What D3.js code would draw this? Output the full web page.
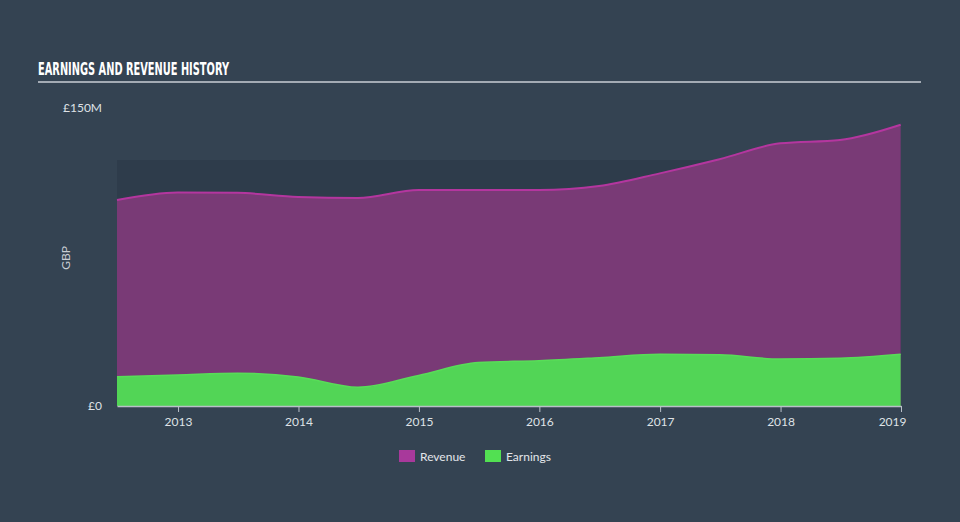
<!DOCTYPE html>
<html>
<head>
<meta charset="utf-8">
<script src="https://cdn.jsdelivr.net/npm/d3@7"></script>
<style>
  html, body { margin: 0; padding: 0; background: #344352; }
  svg { display: block; }
</style>
</head>
<body>
<svg id="chart" width="960" height="522"></svg>
<script>
// ---- data ----
const dates = ["2012-06-30","2012-12-31","2013-06-30","2013-12-31","2014-06-30","2014-12-31",
               "2015-06-30","2015-12-31","2016-06-30","2016-12-31","2017-06-30","2017-12-31",
               "2018-06-30","2018-12-31"];
const revenue  = [103.7, 107.5, 107.3, 105.2, 104.7, 108.7, 108.7, 108.7, 110.7, 117.1, 124.2, 132.2, 133.9, 141.6];
const earnings = [14.7, 15.6, 16.5, 14.6, 9.4, 15.4, 21.9, 22.8, 24.3, 26.0, 25.8, 23.6, 24.0, 26.0];
const xTickYears = [2013, 2014, 2015, 2016, 2017, 2018, 2019];
const yTickValues = [0, 150];
const yTickLabels = ["£0", "£150M"];
const seriesNames = ["Revenue", "Earnings"];
const titleText = "EARNINGS AND REVENUE HISTORY";

// ---- setup ----
const svg = d3.select("#chart");
const parse = d3.timeParse("%Y-%m-%d");
const pts = dates.map((d, i) => ({ date: parse(d), rev: revenue[i], earn: earnings[i] }));

const plotLeft = 117, plotRight = 901, plotTop = 108, plotBottom = 406;
const x = d3.scaleTime().domain([pts[0].date, new Date(2019, 0, 1)]).range([plotLeft, plotRight]);
const y = d3.scaleLinear().domain([0, 150]).range([plotBottom, plotTop]);

svg.append("rect").attr("width", 960).attr("height", 522).attr("fill", "#344352");

// title
svg.append("text")
  .attr("x", 38).attr("y", 75)
  .attr("font-family", "'Liberation Sans Narrow', 'DejaVu Sans Condensed', 'Roboto', sans-serif")
  .attr("font-weight", "bold").attr("font-size", 18)
  .attr("fill", "#ffffff")
  .attr("textLength", 191).attr("lengthAdjust", "spacingAndGlyphs")
  .text(titleText);
svg.append("line").attr("x1", 38).attr("x2", 921).attr("y1", 82).attr("y2", 82)
  .attr("stroke", "#a3abb4").attr("stroke-width", 2);

// darker panel behind plot
svg.append("rect").attr("x", plotLeft).attr("y", 160)
  .attr("width", plotRight - plotLeft).attr("height", plotBottom - 160)
  .attr("fill", "#2e3c4b");

const curve = d3.curveMonotoneX;
const revArea = d3.area().x(d => x(d.date)).y0(y(0)).y1(d => y(d.rev)).curve(curve);
const revLine = d3.line().x(d => x(d.date)).y(d => y(d.rev)).curve(curve);
const earnArea = d3.area().x(d => x(d.date)).y0(y(0)).y1(d => y(d.earn)).curve(curve);
const earnLine = d3.line().x(d => x(d.date)).y(d => y(d.earn)).curve(curve);

svg.append("path").datum(pts).attr("d", revArea).attr("fill", "#793a76");
svg.append("path").datum(pts).attr("d", revLine).attr("fill", "none")
  .attr("stroke", "#b4369f").attr("stroke-width", 2);
svg.append("path").datum(pts).attr("d", earnArea).attr("fill", "#52d556");
svg.append("path").datum(pts).attr("d", earnLine).attr("fill", "none")
  .attr("stroke", "#58dd58").attr("stroke-width", 1.5);

// x axis
const xAxis = d3.axisBottom(x)
  .tickValues(xTickYears.map(yr => new Date(yr, 0, 1)))
  .tickFormat(d3.timeFormat("%Y"))
  .tickSize(6).tickSizeOuter(0);
const gx = svg.append("g").attr("transform", `translate(0,${plotBottom})`).call(xAxis);
gx.select(".domain").attr("stroke", "#b9c0c8").attr("stroke-width", 1.5);
gx.selectAll(".tick line").attr("stroke", "#b9c0c8");
gx.selectAll(".tick text")
  .attr("fill", "#dfe2e6").attr("font-size", 12)
  .attr("font-family", "Lato, 'Open Sans', sans-serif").attr("dy", "0.95em");
gx.selectAll(".tick").filter(d => d.getFullYear() === 2019).select("text").attr("text-anchor", "end").attr("dx", 5);

// y axis
const yAxis = d3.axisLeft(y).tickValues(yTickValues)
  .tickFormat((d, i) => yTickLabels[i]).tickSize(0);
const gy = svg.append("g").attr("transform", `translate(102,0)`).call(yAxis);
gy.select(".domain").remove();
gy.selectAll(".tick text")
  .attr("fill", "#dfe2e6").attr("font-size", 12)
  .attr("font-family", "Lato, 'Open Sans', sans-serif").attr("x", 0);

svg.append("text")
  .attr("transform", "translate(70,258) rotate(-90)")
  .attr("text-anchor", "middle")
  .attr("fill", "#c8cdd3").attr("font-size", 12)
  .attr("font-family", "Lato, 'Open Sans', sans-serif")
  .text("GBP");

// legend
const legendColors = ["#a8399b", "#52e052"];
const legendX = [399, 485];
seriesNames.forEach((name, i) => {
  svg.append("rect").attr("x", legendX[i]).attr("y", 450).attr("width", 16).attr("height", 12)
    .attr("fill", legendColors[i]);
  svg.append("text").attr("x", legendX[i] + 21).attr("y", 460.5)
    .attr("fill", "#e3e6ea").attr("font-size", 12)
    .attr("font-family", "Lato, 'Open Sans', sans-serif")
    .text(name);
});
</script>
</body>
</html>
